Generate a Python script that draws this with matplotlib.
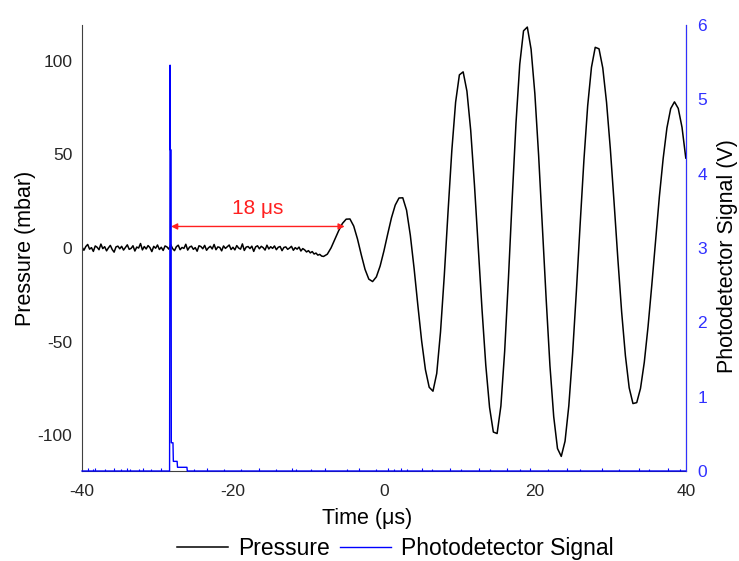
import numpy as np
import matplotlib
matplotlib.use("Agg")
import matplotlib.pyplot as plt

plt.rcParams['font.family'] = ['Liberation Sans', 'DejaVu Sans']
plt.rcParams['axes.unicode_minus'] = False

# Pressure trace: quiet baseline sampled every 0.25 us, then the wave train every 0.5 us
base_time = np.arange(-40.0, -8.0, 0.25)
base_pressure = [
    0.5, -1.2, 0.8, 1.9, -0.6, 0.2, -1.8, 1.1, 0.4, -0.9, 2.1, -0.3, 0.7, -1.5, 0.1, 1.4,
    -0.8, -2.2, 0.6, 1.0, -0.4, 0.9, -1.1, 0.3, 1.7, -0.7, -0.2, 1.2, -1.6, 0.5, 0.0, 2.4,
    -1.0, 0.8, -0.5, 1.3, 0.2, -1.9, 0.9, -0.1, 1.6, -0.8, 0.4, -1.3, 1.1, 0.6, -0.6, 1.8,
    -0.3, -1.4, 0.7, 1.5, -0.9, 0.3, -0.2, 2.0, -1.1, 0.5, 1.0, -0.7, 0.2, -1.7, 1.2, 0.8,
    -0.4, 1.4, -1.2, 0.1, 0.9, -0.5, 1.9, -0.9, 0.6, 0.3, -1.5, 1.1, -0.2, 0.7, 1.6, -0.8,
    0.4, -1.0, 1.3, 0.0, -0.6, 2.2, -1.3, 0.5, 0.8, -0.3, 1.0, -1.8, 0.6, 1.2, -0.4, 0.9,
    0.2, -1.1, 1.5, -0.5, 0.7, -0.2, 1.1, -0.9, 0.4, 0.8, -1.4, 0.3, 0.6, -0.7, 0.0, 0.9,
    -1.2, 0.2, -0.6, 0.5, -1.6, -0.3, -1.0, -2.1, -1.4, -2.6, -1.9, -3.2, -2.7, -3.8, -3.4, -4.3,
]
wave_time = np.arange(-8.0, 40.01, 0.5)
wave_pressure = [
    -4.5, -3.3, 0.1, 4.6, 9.2, 13.1, 15.4, 15.5, 11.7, 4.8, -3.6, -11.4, -16.6, -17.9,
    -15.4, -9.6, -1.6, 7.4, 16.1, 22.9, 26.7, 26.8, 20.2, 6.8, -10.9, -30.7, -49.6,
    -64.9, -74.3, -76.4, -66.9, -44.8, -14.7, 19.5, 52.1, 77.8, 92.4, 94.0, 83.7, 62.8,
    33.5, 0.7, -32.8, -62.6, -85.1, -98.2, -99.0, -84.3, -55.1, -16.3, 26.5, 66.6, 98.1,
    115.9, 117.9, 106.1, 82.4, 49.4, 11.6, -27.3, -62.8, -90.0, -107.0, -111.2, -103.1,
    -84.2, -56.5, -23.2, 12.6, 46.8, 75.9, 96.4, 107.1, 106.3, 96.1, 77.7, 53.0, 24.2,
    -5.9, -34.1, -57.5, -74.6, -83.0, -82.5, -74.9, -61.0, -41.9, -19.6, 4.2, 27.5, 47.7,
    64.1, 74.4, 78.0, 74.5, 64.4, 48.0,
]
time_us = np.concatenate([base_time, wave_time])
pressure = np.concatenate([base_pressure, wave_pressure])

# Photodetector trace: laser pulse spike and its decay tail
pd_time = [-40.0, -28.4, -28.33, -28.3, -28.2, -28.17, -28.1, -27.95, -27.9, -27.7,
           -27.4, -27.35, -26.1, -26.05, 40.0]
pd_signal = [0.0, 0.0, 5.46, 4.32, 4.32, 0.38, 0.38, 0.38, 0.13, 0.13,
             0.13, 0.05, 0.05, 0.0, 0.0]
# small noise blips on the photodetector baseline
pd_noise_time = [-39.2, -38.6, -38.3, -36.9, -35.8, -34.9, -34.1, -33.6, -32.4, -31.9,
                 -30.8, -29.5, -25.1, -23.4, -21.2, -18.9, -16.5, -14.3, -12.2, -11.6,
                 -9.7, -7.8, -4.9, -3.3, -1.1, 0.6, 1.4, 2.2, 3.0, 5.1, 6.4, 8.7, 10.2,
                 12.6, 14.1, 16.3, 18.0, 19.4, 21.7, 24.2, 26.0, 28.9, 31.2, 33.8, 35.1,
                 37.6, 39.2]
pd_noise_signal = [0.04, 0.03, 0.04, 0.03, 0.04, 0.03, 0.04, 0.03, 0.03, 0.04,
                   0.03, 0.04, 0.03, 0.04, 0.03, 0.03, 0.04, 0.03, 0.04, 0.03,
                   0.03, 0.04, 0.03, 0.04, 0.03, 0.04, 0.03, 0.04, 0.03, 0.04, 0.03,
                   0.04, 0.03, 0.04, 0.03, 0.04, 0.03, 0.04, 0.03, 0.04, 0.03, 0.04,
                   0.03, 0.04, 0.03, 0.04, 0.03]

delay_start, delay_end, delay_level = -28.2, -5.2, 11.5
delay_label = "18 μs"

fig = plt.figure(figsize=(7.39, 5.61), dpi=100)
ax = fig.add_axes([0.111, 0.1604, 0.817, 0.795])
ax2 = ax.twinx()

p_line, = ax.plot(time_us, pressure, color='black', lw=1.1, label='Pressure')
d_line, = ax2.plot(pd_time, pd_signal, color='#0000ff', lw=1.0, label='Photodetector Signal',
                   clip_on=False)
ax2.vlines(pd_noise_time, 0, pd_noise_signal, color='#0000ff', lw=0.8)

ax.annotate('', xy=(delay_end, delay_level), xytext=(delay_start, delay_level),
            arrowprops=dict(arrowstyle='<|-|>', color='#ff2020', lw=1.0,
                            mutation_scale=9, shrinkA=0, shrinkB=0))
ax.text((delay_start + delay_end) / 2, delay_level + 4.5, delay_label, color='#ff2020',
        fontsize=15, ha='center', va='bottom')

ax.set_xlim(-40, 40)
ax.set_ylim(-119, 119)
ax2.set_ylim(0, 6)
ax.set_xticks([-40, -20, 0, 20, 40])
ax.set_yticks([-100, -50, 0, 50, 100])
ax2.set_yticks([0, 1, 2, 3, 4, 5, 6])

ax.tick_params(axis='both', length=0, labelsize=12.5, colors='#262626')
ax.tick_params(axis='x', pad=9)
ax.tick_params(axis='y', pad=7)
ax2.tick_params(axis='y', length=0, labelsize=12.5, colors='#3030ff', pad=8.5)

for a in (ax, ax2):
    a.spines['top'].set_visible(False)
ax.spines['left'].set_color('#404040')
ax.spines['bottom'].set_color('#404040')
ax2.spines['left'].set_visible(False)
ax2.spines['bottom'].set_visible(False)
ax2.spines['right'].set_color('#3030ff')

ax.set_xlabel('Time (μs)', fontsize=15.5)
ax.xaxis.set_label_coords(0.472, -0.084)
ax.set_ylabel('Pressure (mbar)', fontsize=15.5)
ax.yaxis.set_label_coords(-0.077, 0.5)
ax2.set_ylabel('Photodetector Signal (V)', fontsize=15.5)
ax2.yaxis.set_label_coords(1.052, 0.482)

fig.legend(handles=[p_line, d_line], loc='center', bbox_to_anchor=(0.535, 0.022),
           ncol=2, frameon=False, fontsize=16.5, handlelength=2.2, columnspacing=0.45,
           handletextpad=0.45, borderpad=0, borderaxespad=0)

fig.savefig('out.png', dpi=100)
